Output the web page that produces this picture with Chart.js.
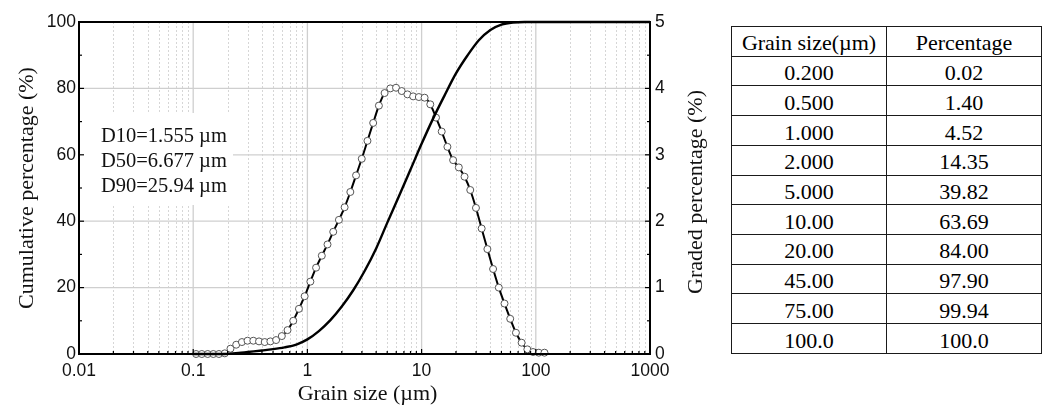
<!DOCTYPE html>
<html>
<head>
<meta charset="utf-8">
<script src="https://cdn.jsdelivr.net/npm/chart.js@4.4.0/dist/chart.umd.min.js"></script>
<style>
    html, body { margin: 0; padding: 0; background: #fff; }
    #wrap { position: relative; width: 1046px; height: 408px; }
    #chart-box { position: absolute; left: 0; top: 0; width: 715px; height: 408px; }
    #grain-table {
        position: absolute; left: 731px; top: 26px; width: 311px; height: 328px;
        border-collapse: collapse; table-layout: fixed;
        font-family: 'Liberation Serif', 'Times New Roman', serif; font-size: 22px; color: #000;
    }
    #grain-table td {
        border: 1.6px solid #1a1a1a; text-align: center; vertical-align: middle;
        padding: 4px 0 0 0; line-height: 1;
    }
</style>
</head>
<body>
<div id="wrap">
    <div id="chart-box"><canvas id="psdChart"></canvas></div>
    <table id="grain-table"></table>
</div>
<script>
// graded distribution (bin centres, um) and percentage per bin
const gradedSize = [0.106, 0.119, 0.134, 0.150, 0.168, 0.189, 0.212, 0.238, 0.267, 0.299,
    0.336, 0.377, 0.423, 0.474, 0.532, 0.597, 0.670, 0.752, 0.843, 0.946,
    1.062, 1.191, 1.337, 1.500, 1.683, 1.888, 2.118, 2.377, 2.667, 2.992,
    3.357, 3.767, 4.227, 4.742, 5.321, 5.970, 6.699, 7.516, 8.433, 9.462,
    10.62, 11.91, 13.37, 15.00, 16.83, 18.88, 21.18, 23.77, 26.67, 29.92,
    33.57, 37.67, 42.27, 47.42, 53.21, 59.70, 66.99, 75.16, 84.33, 94.62,
    106.2, 119.1];
const gradedPct = [0, 0, 0, 0, 0, 0.01, 0.08, 0.14, 0.18, 0.20,
    0.20, 0.19, 0.18, 0.19, 0.21, 0.27, 0.36, 0.50, 0.68, 0.87,
    1.09, 1.30, 1.48, 1.65, 1.84, 2.02, 2.21, 2.44, 2.69, 2.94,
    3.21, 3.48, 3.74, 3.93, 4.00, 4.01, 3.96, 3.91, 3.88, 3.87,
    3.86, 3.76, 3.56, 3.35, 3.12, 2.92, 2.81, 2.67, 2.47, 2.20,
    1.89, 1.58, 1.28, 1.00, 0.76, 0.53, 0.32, 0.17, 0.07, 0.03,
    0.02, 0.02];

// cumulative curve
const cumSize = [0.1, 0.18, 0.2, 0.25, 0.3, 0.4, 0.5, 0.63, 0.8, 1.0,
    1.26, 1.59, 2.0, 2.52, 3.17, 4.0, 5.0, 6.33, 7.96, 10,
    12.6, 15.9, 20, 25.2, 31.7, 40, 50, 63, 80, 100, 1000];
const cumPct = [0, 0, 0.05, 0.3, 0.6, 1.05, 1.45, 2.0, 2.85, 4.4,
    6.9, 10.2, 14.3, 19.2, 25.0, 31.8, 39.5, 47.5, 55.4, 63.3,
    70.9, 77.9, 84.5, 89.9, 94.5, 97.6, 99.2, 99.85, 100, 100, 100];

// axes
const xTicks = [0.01, 0.1, 1, 10, 100, 1000];
const xTickLabels = ['0.01', '0.1', '1', '10', '100', '1000'];
const notes = ['D10=1.555 \u00b5m', 'D50=6.677 \u00b5m', 'D90=25.94 \u00b5m'];

// table
const tableHeader = ['Grain size(\u00b5m)', 'Percentage'];
const tableSize = ['0.200', '0.500', '1.000', '2.000', '5.000', '10.00', '20.00', '45.00', '75.00', '100.0'];
const tablePct = ['0.02', '1.40', '4.52', '14.35', '39.82', '63.69', '84.00', '97.90', '99.94', '100.0'];

const SERIF = "'Liberation Serif', 'Times New Roman', serif";
const SANS = "'Liberation Sans', Arial, sans-serif";

document.addEventListener('DOMContentLoaded', () => {
    // --- table ---
    const table = document.getElementById('grain-table');
    const rows = [tableHeader].concat(tableSize.map((s, i) => [s, tablePct[i]]));
    rows.forEach(r => {
        const tr = document.createElement('tr');
        r.forEach(c => {
            const td = document.createElement('td');
            td.textContent = c;
            tr.appendChild(td);
        });
        table.appendChild(tr);
    });

    // --- grid, note box, frame, titles ---
    const decorPlugin = {
        id: 'decor',
        beforeDatasetsDraw(chart) {
            const { ctx, chartArea: a, scales: { x, y } } = chart;
            ctx.save();
            // minor dashed verticals
            ctx.strokeStyle = '#d6d6d6';
            ctx.lineWidth = 1;
            ctx.setLineDash([2, 2]);
            xTicks.slice(0, -1).forEach(d => {
                for (let m = 2; m <= 9; m++) {
                    const px = Math.round(x.getPixelForValue(d * m)) + 0.5;
                    ctx.beginPath();
                    ctx.moveTo(px, a.top);
                    ctx.lineTo(px, a.bottom);
                    ctx.stroke();
                }
            });
            ctx.setLineDash([]);
            // major solid lines
            ctx.strokeStyle = '#cfcfcf';
            ctx.lineWidth = 1.3;
            xTicks.forEach(v => {
                const px = x.getPixelForValue(v);
                ctx.beginPath();
                ctx.moveTo(px, a.top);
                ctx.lineTo(px, a.bottom);
                ctx.stroke();
            });
            [20, 40, 60, 80].forEach(v => {
                const py = y.getPixelForValue(v);
                ctx.beginPath();
                ctx.moveTo(a.left, py);
                ctx.lineTo(a.right, py);
                ctx.stroke();
            });
            // note box
            ctx.fillStyle = '#fff';
            ctx.fillRect(a.left + 1, 113, 153, 92);
            ctx.fillStyle = '#111';
            ctx.font = '20.5px ' + SERIF;
            ctx.textAlign = 'left';
            ctx.textBaseline = 'alphabetic';
            notes.forEach((t, i) => ctx.fillText(t, 101, 142 + i * 25));
            ctx.restore();
        },
        afterDraw(chart) {
            const { ctx, chartArea: a, scales: { x, y, y2 } } = chart;
            ctx.save();
            ctx.strokeStyle = '#000';
            // inward ticks
            ctx.lineWidth = 1.2;
            const tick = (x1, y1, x2, y2p) => {
                ctx.beginPath();
                ctx.moveTo(x1, y1);
                ctx.lineTo(x2, y2p);
                ctx.stroke();
            };
            for (let v = 10; v < 100; v += 10) {
                const py = y.getPixelForValue(v);
                const len = v % 20 === 0 ? 5 : 3;
                tick(a.left, py, a.left + len, py);
            }
            for (let v = 0.5; v < 5; v += 0.5) {
                const py = y2.getPixelForValue(v);
                const len = v % 1 === 0 ? 5 : 3;
                tick(a.right, py, a.right - len, py);
            }
            xTicks.slice(0, -1).forEach(d => {
                for (let m = 1; m <= 9; m++) {
                    const px = x.getPixelForValue(d * m);
                    tick(px, a.bottom, px, a.bottom - (m === 1 ? 5 : 3));
                }
            });
            // frame
            ctx.lineWidth = 2;
            ctx.strokeRect(a.left, a.top, a.right - a.left, a.bottom - a.top);

            // axis titles
            ctx.fillStyle = '#111';
            ctx.font = '22px ' + SERIF;
            ctx.textAlign = 'center';
            ctx.textBaseline = 'alphabetic';
            ctx.fillText('Grain size (\u00b5m)', (a.left + a.right) / 2 + 3, 400);
            const mid = (a.top + a.bottom) / 2;
            ctx.save();
            ctx.translate(33, mid);
            ctx.rotate(-Math.PI / 2);
            ctx.fillText('Cumulative percentage (%)', 0, 0);
            ctx.restore();
            ctx.save();
            ctx.translate(702, mid + 4);
            ctx.rotate(-Math.PI / 2);
            ctx.fillText('Graded percentage (%)', 0, 0);
            ctx.restore();
            ctx.restore();
        }
    };

    const tickFont = { family: SANS, size: 17.5 };

    new Chart(document.getElementById('psdChart'), {
        type: 'line',
        data: {
            datasets: [
                {
                    label: 'Cumulative',
                    data: cumSize.map((s, i) => ({ x: s, y: cumPct[i] })),
                    yAxisID: 'y',
                    borderColor: '#000',
                    borderWidth: 2.4,
                    pointRadius: 0,
                    cubicInterpolationMode: 'monotone',
                    clip: false,
                },
                {
                    label: 'Graded',
                    data: gradedSize.map((s, i) => ({ x: s, y: gradedPct[i] })),
                    yAxisID: 'y2',
                    borderColor: '#000',
                    borderWidth: 2,
                    pointRadius: 3.5,
                    pointBorderWidth: 1,
                    pointBorderColor: '#555',
                    pointBackgroundColor: '#fff',
                    cubicInterpolationMode: 'monotone',
                    clip: false,
                }
            ]
        },
        options: {
            responsive: true,
            maintainAspectRatio: false,
            animation: false,
            layout: { padding: { top: 22, left: 0, right: 0, bottom: 0 } },
            plugins: { legend: { display: false }, tooltip: { enabled: false } },
            scales: {
                x: {
                    type: 'logarithmic',
                    position: 'bottom',
                    min: 0.01,
                    max: 1000,
                    afterBuildTicks: (s) => { s.ticks = xTicks.map(v => ({ value: v })); },
                    afterFit: (s) => { s.height = 54; },
                    grid: { display: false, drawTicks: false },
                    border: { display: false },
                    ticks: {
                        autoSkip: false,
                        maxRotation: 0,
                        padding: 7,
                        color: '#111',
                        font: tickFont,
                        callback: (v, i) => xTickLabels[i],
                    }
                },
                y: {
                    position: 'left',
                    min: 0,
                    max: 100,
                    afterFit: (s) => { s.width = 79; },
                    grid: { display: false, drawTicks: false },
                    border: { display: false },
                    ticks: { stepSize: 20, padding: 3, color: '#111', font: tickFont }
                },
                y2: {
                    position: 'right',
                    min: 0,
                    max: 5,
                    afterFit: (s) => { s.width = 65; },
                    grid: { display: false, drawTicks: false },
                    border: { display: false },
                    ticks: { stepSize: 1, padding: 5, color: '#111', font: tickFont }
                }
            }
        },
        plugins: [decorPlugin]
    });
});
</script>
</body>
</html>
